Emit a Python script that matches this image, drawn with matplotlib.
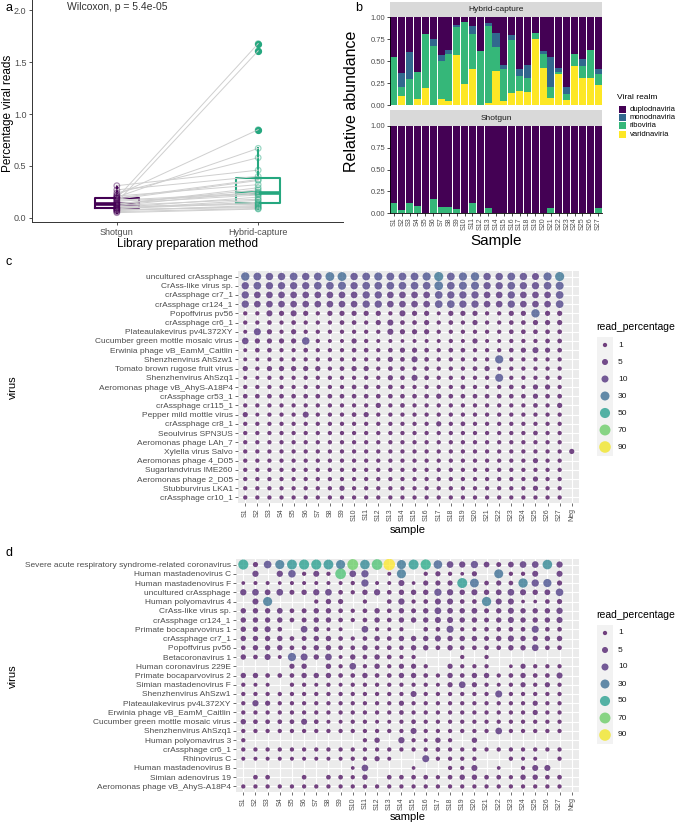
import numpy as np
import matplotlib
matplotlib.use("Agg")
import matplotlib.pyplot as plt
from matplotlib.colors import Normalize
from matplotlib.patches import Rectangle

plt.rcParams['font.family'] = ['Liberation Sans', 'DejaVu Sans']

W, H = 678, 824

# ---------------- panel a data ----------------
methods = ["Shotgun", "Hybrid-capture"]
shotgun = [0.19, 0.22, 0.12, 0.09, 0.31, 0.15, 0.07, 0.2, 0.1, 0.13, 0.24, 0.05, 0.16, 0.18,
           0.08, 0.135, 0.21, 0.11, 0.27, 0.06, 0.19, 0.14, 0.095, 0.12, 0.17, 0.075, 0.09]
hybrid = [1.68, 0.85, 0.25, 0.14, 0.46, 1.61, 0.12, 0.67, 0.2, 0.29, 0.58, 0.085, 0.23, 0.36,
          0.1, 0.27, 0.32, 0.13, 0.40, 0.09, 0.37, 0.22, 0.15, 0.18, 0.24, 0.11, 0.17]
method_colors = ["#440154", "#25a77f"]

# ---------------- panel b data ----------------
samples = ["S%d" % i for i in range(1, 28)]
realms = ["duplodnaviria", "monodnaviria", "riboviria", "varidnaviria"]
realm_colors = ["#440154", "#31688e", "#35b779", "#fde725"]
hc_varid = [0, .10, 0, .07, .19, 0, .07, .05, .57, .24, .41, 0, .02, .39, .04, .14, .16, .15,
            .75, .42, .08, .35, .06, .44, .31, .31, .23]
hc_ribo = [.55, .11, .30, .31, .62, .67, .43, .53, .32, .70, .40, .61, .88, .27, .37, .60, .17,
           .16, .07, .16, .13, .02, .07, .14, .13, .31, .12]
hc_mono = [0, .15, .30, 0, 0, .08, .07, .05, .02, 0, .09, 0, .03, .16, .04, .05, .08, .15, 0,
           .03, .33, .05, .07, 0, .08, 0, .06]
sg_ribo = [.12, .04, .12, .08, 0, .16, .07, .07, .05, 0, .11, 0, .06, 0, 0, 0, 0, 0, 0, 0,
           .06, 0, 0, 0, 0, 0, .06]

# ---------------- panel c/d data ----------------
dot_samples = samples + ["Neg"]
c_viruses = ["uncultured crAssphage", "CrAss-like virus sp.", "crAssphage cr7_1",
             "crAssphage cr124_1", "Popoffvirus pv56", "crAssphage cr6_1",
             "Plateaulakevirus pv4L372XY", "Cucumber green mottle mosaic virus",
             "Erwinia phage vB_EamM_Caitlin", "Shenzhenvirus AhSzw1",
             "Tomato brown rugose fruit virus", "Shenzhenvirus AhSzq1",
             "Aeromonas phage vB_AhyS-A18P4", "crAssphage cr53_1", "crAssphage cr115_1",
             "Pepper mild mottle virus", "crAssphage cr8_1", "Seoulvirus SPN3US",
             "Aeromonas phage LAh_7", "Xylella virus Salvo", "Aeromonas phage 4_D05",
             "Sugarlandvirus IME260", "Aeromonas phage 2_D05", "Stubburvirus LKA1",
             "crAssphage cr10_1"]
c_values = [
    [22, 16, 13, 13, 16, 13, 16, 28, 28, 13, 16, 19, 16, 16, 16, 20, 32, 16, 20, 22, 13, 13, 16, 13, 10, 20, 32, 0],
    [12, 15, 12, 12, 12, 12, 15, 15, 18, 12, 15, 15, 15, 15, 15, 15, 26, 15, 18, 18, 12, 12, 15, 12, 12, 15, 18, 0],
    [12, 8, 8, 8, 8, 8, 8, 8, 8, 8, 12, 12, 8, 8, 8, 8, 15, 12, 12, 12, 8, 8, 12, 8, 8, 8, 15, 0],
    [12, 8, 8, 8, 8, 8, 8, 8, 8, 8, 12, 12, 8, 8, 8, 8, 15, 15, 12, 12, 8, 8, 12, 8, 8, 8, 15, 0],
    [1, 1, 5, 2.5, 5, 2.5, 1, 2.5, 2.5, 2.5, 2.5, 2.5, 1, 5, 2.5, 2.5, 0.7, 2.5, 2.5, 2.5, 1, 1, 2.5, 2.5, 22, 2.5, 2.5, 0],
    [1, 1, 1.5, 1, 1.5, 1, 1, 1, 1.5, 1.5, 1, 2.5, 5, 1.5, 1.5, 2.5, 1, 1.5, 1, 2.5, 1, 1, 1.5, 1.5, 2.5, 2.5, 2.5, 0],
    [0.7, 10, 2.5, 1, 2.5, 1, 1, 1, 1, 1, 1, 1, 5, 2.5, 2.5, 2.5, 1, 1, 1, 1, 1, 1, 1.5, 1.5, 1.5, 1.5, 1.5, 0],
    [8, 2.5, 2.5, 2.5, 2.5, 14, 1, 0.7, 0.7, 2.5, 1, 0.7, 0.7, 0.5, 0.7, 0.7, 0.7, 1, 0.7, 2.5, 0.7, 0.7, 1, 1, 1, 1.5, 1.5, 0],
    [0.7, 1.5, 1.5, 1, 1, 1.5, 1, 1, 1, 1.5, 1.5, 1, 1.5, 2.5, 2.5, 1.5, 1, 1.5, 1.5, 1, 1, 1, 1.5, 2.5, 5, 2.5, 1.5, 0],
    [0.7, 0.7, 1, 1, 1, 1, 1, 1, 1, 1, 1, 1, 2.5, 1.5, 5, 1.5, 1, 1, 1, 1, 1, 20, 1, 1, 1, 1, 1, 0],
    [2.5, 1, 2.5, 2.5, 2.5, 2.5, 2.5, 1, 1.5, 2.5, 2.5, 1, 1.5, 1.5, 1, 1.5, 1, 1, 1, 1.5, 2.5, 0.7, 1, 1, 1, 1, 1, 0],
    [0.7, 0.7, 1, 1, 1, 1, 1, 1, 1, 1, 1, 1, 2.5, 1.5, 5, 1.5, 1, 1, 1, 1, 1, 18, 1, 1, 1, 1, 1, 0],
    [1, 1, 1, 1, 1, 1, 1, 1, 1, 1.5, 1.5, 1, 1.5, 1, 1, 1, 1, 1, 1.5, 1, 1, 1, 1.5, 1, 2.5, 2.5, 1, 0],
    [1.5, 1.5, 1.5, 1.5, 1.5, 1.5, 1.5, 1.5, 1.5, 1.5, 1.5, 1.5, 1.5, 1.5, 1.5, 1.5, 2.5, 1.5, 1.5, 1.5, 1.5, 1.5, 1.5, 1.5, 2.5, 1.5, 1.5, 0],
    [1, 1, 1, 1, 1, 1, 1, 1, 1, 1, 1, 2.5, 1, 1.5, 1, 1, 1, 1, 1, 1, 1, 1, 1, 1, 1.5, 1, 2.5, 0],
    [2.5, 0.7, 1, 1, 1, 5, 1, 1, 1, 1.5, 2.5, 1, 1, 1, 1, 1, 1, 1, 1, 1, 1, 1, 1, 1, 1, 1, 1, 0],
    [1, 1, 1, 1, 1, 1, 1, 1, 1, 1, 1, 1, 1, 1, 1, 1, 2.5, 1, 1.5, 1, 1, 1, 1, 1, 1, 1, 1, 0],
    [1, 1, 1, 1, 1, 1, 1, 1, 1, 1, 1, 1, 1, 1, 1, 1, 1, 1, 1, 1, 1, 1, 1, 1, 1.5, 1, 1, 0],
    [1, 1, 1, 1, 1, 1, 1, 1, 1, 1, 1, 1, 1, 1, 1, 1, 1, 1, 1, 1, 1, 1, 1, 1, 1, 1, 1, 0],
    [1, 1, 1, 1, 1, 1, 1, 1, 1, 1, 1, 1, 1, 1, 1, 1, 1, 1, 1, 1, 1, 1, 1, 1, 1, 1, 1, 2.5],
    [1, 1, 1, 1, 1, 1, 1, 1, 1, 1, 1, 1, 1, 1, 1, 1, 1, 1, 1, 1, 1, 1, 1, 1, 2.5, 1, 1, 0],
    [1, 1, 1, 1, 1, 1, 1, 1, 1, 1, 1, 1, 1, 1, 1, 1, 1, 1, 1, 1, 1, 1, 1, 1, 1, 1, 1, 0],
    [1, 1, 1, 1, 1, 1, 1, 1, 1, 1, 1, 1, 1, 1, 1, 1, 1, 1, 1, 1, 1, 1, 1, 1, 2.5, 1, 1, 0],
    [1, 1, 1, 1, 1, 1, 1, 1, 2.5, 1, 1, 1, 1, 1, 1, 1, 1, 1, 1, 1, 1, 1, 1, 1, 2.5, 1, 1, 0],
    [1, 1, 1, 1, 1, 1, 1, 1, 1, 1, 1, 1, 1, 1, 1, 1, 1, 1, 1, 1, 1, 1, 1, 1, 1, 1, 1, 0],
]

d_viruses = ["Severe acute respiratory syndrome-related coronavirus", "Human mastadenovirus C",
             "Human mastadenovirus F", "uncultured crAssphage", "Human polyomavirus 4",
             "CrAss-like virus sp.", "crAssphage cr124_1", "Primate bocaparvovirus 1",
             "crAssphage cr7_1", "Popoffvirus pv56", "Betacoronavirus 1",
             "Human coronavirus 229E", "Primate bocaparvovirus 2", "Simian mastadenovirus F",
             "Shenzhenvirus AhSzw1", "Plateaulakevirus pv4L372XY",
             "Erwinia phage vB_EamM_Caitlin", "Cucumber green mottle mosaic virus",
             "Shenzhenvirus AhSzq1", "Human polyomavirus 3", "crAssphage cr6_1", "Rhinovirus C",
             "Human mastadenovirus B", "Simian adenovirus 19", "Aeromonas phage vB_AhyS-A18P4"]
d_values = [
    [50, 2.5, 15, 32, 45, 50, 50, 45, 32, 70, 40, 65, 92, 32, 48, 55, 25, 8, 6, 12, 4, 2, 4, 8, 8, 40, 6, 0],
    [0, 6, 0, 6, 14, 1, 5, 1, 65, 8, 12, 0, 0.7, 32, 0, 1, 2.5, 1, 0.5, 2.5, 0, 30, 1, 1, 5, 0, 5, 0],
    [0.5, 0.7, 0.7, 0.5, 0.7, 0.7, 0.7, 0.7, 0.7, 1, 12, 0.7, 0.7, 5, 0.5, 2.5, 2.5, 2.5, 48, 28, 1.5, 2.5, 1.5, 35, 12, 20, 2.5, 0],
    [6, 8, 4, 8, 2, 3, 6, 8, 1.5, 1, 3, 6, 1.5, 3, 3, 3, 12, 6, 3, 5, 3, 4, 8, 5, 3, 4, 14, 0],
    [0, 5, 32, 0, 0, 0, 1, 3, 2.5, 0, 1, 0, 1.5, 6, 1, 1.5, 5, 5, 1.5, 1.5, 35, 5, 5, 0.5, 0.5, 1.5, 2.5, 0],
    [3, 3, 3, 4, 1.5, 2, 3, 3, 1.5, 1, 1.5, 3, 1.5, 3, 2, 3, 8, 4, 3, 4, 2, 3, 5, 3, 3, 3, 6, 0],
    [3, 3, 3, 3, 1.5, 2, 3, 3, 1.5, 1, 1.5, 3, 1.5, 3, 3, 3, 5, 5, 3, 3, 2, 3, 5, 3, 3, 3, 5, 0],
    [3, 3, 5, 1.5, 0, 8, 3, 0.7, 0.7, 0, 8, 1, 0.7, 1, 0, 1.5, 1.5, 10, 1, 1, 1.5, 1.5, 1.5, 1.5, 10, 1.5, 1.5, 0],
    [3, 3, 3, 3, 1.5, 2, 3, 3, 1.5, 1, 1.5, 3, 1.5, 3, 3, 3, 5, 3, 3, 3, 2, 3, 5, 3, 3, 3, 3, 0],
    [1.5, 3, 3, 3, 1.5, 1.5, 3, 3, 1.5, 1.5, 3, 1.5, 1.5, 1.5, 3, 3, 1.5, 3, 1.5, 1.5, 1.5, 1.5, 3, 3, 8, 1.5, 1.5, 0],
    [3, 1.5, 5, 0.7, 20, 10, 3, 8, 0.7, 3, 1.5, 3, 1.5, 1, 1, 0, 0, 0, 1, 0, 1, 0, 0, 0, 0, 0, 0, 0],
    [0, 0, 0, 0, 2.5, 3, 0, 3, 1, 8, 1, 3, 1, 2.5, 2.5, 1, 0, 2.5, 1, 1, 1, 0, 0.5, 2.5, 1, 1, 1, 0],
    [3, 3, 1.5, 1.5, 1.5, 3, 3, 3, 1.5, 1.5, 3, 1.5, 1.5, 3, 3, 1.5, 1, 3, 1.5, 3, 3, 1, 1.5, 3, 1.5, 1.5, 5, 0],
    [1, 0.7, 0.7, 0, 1, 1, 0.7, 1, 0.7, 1, 1, 1, 1, 1, 1, 1, 0.7, 2.5, 8, 2.5, 1, 0.7, 1, 2.5, 1, 2.5, 1, 0],
    [1, 1, 1, 1, 1, 1, 1, 1, 1, 1, 1, 1, 1, 1, 5, 1, 1, 1, 1, 1, 1, 10, 1, 1, 1, 1, 1, 0],
    [1, 6, 2.5, 1, 1, 1, 1, 1, 1, 1, 1, 1, 1, 2.5, 1, 1, 1, 1, 1, 1, 1, 1, 1, 1, 2.5, 1, 1, 0],
    [1, 1, 1, 1, 1, 1, 1, 1, 1, 1, 1, 1, 1, 1.5, 1, 1, 1, 1, 1, 1, 1, 1, 1, 1, 2.5, 1, 1, 0],
    [3, 1.5, 1.5, 1.5, 1.5, 5, 1.5, 0.7, 0.7, 1, 1, 0.7, 0.7, 1, 1.5, 1, 1, 1, 1, 1, 1, 1, 1, 1, 1, 1, 1, 0],
    [1, 1, 1, 1, 1, 1, 1, 1, 1, 1, 1, 1, 1, 1, 5, 1, 1, 1, 1, 1, 1, 8, 1, 1, 1, 1, 1, 0],
    [1, 0, 0, 0, 0, 0, 0, 0, 0, 0, 1, 3, 0, 6, 1, 0.7, 3, 1, 0, 3, 0, 0, 0, 0, 0, 0, 0, 0],
    [1, 1, 1, 1, 1, 1, 1, 1, 1, 1, 1, 1, 1, 1, 1, 1, 1.5, 1, 1, 1, 1, 1, 1, 1, 1, 1, 1, 0],
    [0.7, 0.7, 0.7, 0.7, 0.7, 0.7, 0.7, 0.7, 0.7, 1, 1, 2.5, 0.7, 0, 0, 10, 1, 1, 1, 1, 0, 0, 1, 0.7, 0.7, 0, 1, 0],
    [0, 0, 0, 0, 0, 0, 0, 0, 0, 0.5, 8, 0, 0, 0, 0.5, 0, 0, 1, 1, 5, 0, 0.5, 0, 1, 5, 5, 0, 0],
    [0, 1.5, 1.5, 0, 0, 1.5, 0, 1.5, 1.5, 1, 3, 0, 1.5, 1.5, 1.5, 1.5, 1, 1.5, 3, 3, 1.5, 1.5, 1, 3, 3, 1.5, 1.5, 0],
    [1, 1, 1, 1, 1, 1, 1, 1, 1, 1, 1, 1, 1, 1, 1, 1, 1, 1, 1, 1, 1, 1, 1, 1, 1, 1, 1, 0],
]
legend_breaks = [1, 5, 10, 30, 50, 70, 90]

TXT = "#4d4d4d"
cnorm = Normalize(0, 92)
cmap = plt.get_cmap("viridis")


def dot_size(v):
    # diameter in px grows roughly with v^0.25, converted to points^2
    d = 0.8 + 3.5 * np.asarray(v, dtype=float) ** 0.25
    return (d * 0.72) ** 2


def px_axes(x0, y0, x1, y1):
    return fig.add_axes([x0 / W, 1 - y1 / H, (x1 - x0) / W, (y1 - y0) / H])


fig = plt.figure(figsize=(W / 100, H / 100), dpi=100)

# overlay for labels and legends, in pixel coords
ov = fig.add_axes([0, 0, 1, 1], zorder=10)
ov.set_xlim(0, W)
ov.set_ylim(H, 0)
ov.axis("off")
ov.patch.set_alpha(0)

# ---------------- panel a ----------------
axa = px_axes(32, 0, 343, 222)
x_s, x_h = 1, 2
for s, h in zip(shotgun, hybrid):
    axa.plot([x_s, x_h], [s, h], color="#cfcfcf", lw=0.7, zorder=3)
for i, vals in enumerate([shotgun, hybrid]):
    c = method_colors[i]
    axa.boxplot([vals], positions=[i + 1], widths=0.31, showcaps=False,
                boxprops=dict(color=c, lw=1.5), whiskerprops=dict(color=c, lw=1.5),
                medianprops=dict(color=c, lw=2.6),
                flierprops=dict(marker="o", markerfacecolor=c, markeredgecolor=c,
                                markersize=4.2), zorder=2)
    axa.scatter([i + 1] * len(vals), vals, s=16, facecolors="none", edgecolors=c,
                alpha=0.45, lw=0.9, zorder=4)
axa.set_xlim(0.4, 2.6)
axa.set_ylim(-0.04, 2.1)
axa.set_xticks([1, 2])
axa.set_xticklabels(methods, fontsize=6.5, color=TXT)
axa.set_yticks([0, 0.5, 1.0, 1.5, 2.0])
axa.set_yticklabels(["0.0", "0.5", "1.0", "1.5", "2.0"], fontsize=6.5, color=TXT)
axa.tick_params(length=2.5, width=0.6, color="#333333", pad=1.5)
for sp in ["top", "right"]:
    axa.spines[sp].set_visible(False)
for sp in ["left", "bottom"]:
    axa.spines[sp].set_linewidth(0.7)
    axa.spines[sp].set_color("#333333")
axa.set_xlabel("Library preparation method", fontsize=8.5, labelpad=1)
axa.text(0.65, 2.03, "Wilcoxon, p = 5.4e-05", fontsize=7.5, color="#333333",
         ha="left", va="center")
ov.text(8, 113, "Percentage viral reads", fontsize=8.5, rotation=90,
        ha="center", va="center")

# ---------------- panel b ----------------
xb = np.arange(1, 28)
hc_duplo = 1 - np.array(hc_varid) - np.array(hc_ribo) - np.array(hc_mono)
sg_duplo = 1 - np.array(sg_ribo)
zeros = np.zeros(27)
facets = [("Hybrid-capture", [hc_duplo, hc_mono, hc_ribo, hc_varid], 17, 105, 2),
          ("Shotgun", [sg_duplo, zeros, np.array(sg_ribo), zeros], 126, 213, 110)]
for k, (name, layers, y0, y1, st) in enumerate(facets):
    ax = px_axes(390, y0, 602, y1)
    bottom = np.zeros(27)
    for j in [3, 2, 1, 0]:
        vals = np.asarray(layers[j], dtype=float)
        ax.bar(xb, vals, bottom=bottom, width=0.9, color=realm_colors[j], lw=0)
        bottom = bottom + vals
    ax.set_xlim(0.5, 27.5)
    ax.set_ylim(0, 1)
    ax.set_yticks([0, 0.25, 0.5, 0.75, 1])
    ax.set_yticklabels(["0.00", "0.25", "0.50", "0.75", "1.00"], fontsize=5.5, color=TXT)
    ax.tick_params(axis="y", length=2, width=0.5, pad=1.5)
    for sp in ["top", "right"]:
        ax.spines[sp].set_visible(False)
    ax.spines["left"].set_linewidth(0.6)
    if k == 0:
        ax.spines["bottom"].set_visible(False)
        ax.set_xticks([])
    else:
        ax.spines["bottom"].set_linewidth(0.6)
        ax.set_xticks(xb)
        ax.set_xticklabels(samples, rotation=90, fontsize=5, color=TXT)
        ax.tick_params(axis="x", length=2, width=0.5, pad=1)
    ov.add_patch(Rectangle((390, st), 212, y0 - st, facecolor="#d9d9d9", edgecolor="none"))
    ov.text(496, (st + y0) / 2, name, fontsize=6, color="#1a1a1a", ha="center", va="center")
ov.text(351, 101, "Relative abundance", fontsize=11.5, rotation=90,
        ha="center", va="center")
ov.text(496, 241, "Sample", fontsize=11, ha="center", va="center")
ov.text(617, 97, "Viral realm", fontsize=6, ha="left", va="center")
for j, (r, c) in enumerate(zip(realms, realm_colors)):
    yy = 109 + j * 8.4
    ov.add_patch(Rectangle((619, yy - 3.5), 7, 7, facecolor=c, edgecolor="none"))
    ov.text(630, yy, r, fontsize=5.5, ha="left", va="center")


# ---------------- panels c and d ----------------
def dot_panel(x0, y0, x1, y1, viruses, values, leg_y):
    ax = px_axes(x0, y0, x1, y1)
    ax.set_facecolor("#ebebeb")
    vals = np.array(values, dtype=float)
    rr, cc = np.nonzero(vals > 0)
    v = vals[rr, cc]
    order = np.argsort(v)
    ax.scatter(cc[order], rr[order], s=dot_size(v[order]), c=v[order], cmap=cmap,
               norm=cnorm, alpha=0.75, lw=0, zorder=3)
    ax.set_xlim(-0.6, len(dot_samples) - 0.4)
    ax.set_ylim(len(viruses) - 0.4, -0.6)
    ax.set_xticks(range(len(dot_samples)))
    ax.set_xticklabels(dot_samples, rotation=90, fontsize=5, color=TXT)
    ax.set_yticks(range(len(viruses)))
    ax.set_yticklabels(viruses, fontsize=6, color=TXT)
    ax.tick_params(length=2.2, width=0.5, color="#333333", pad=1.5)
    ax.grid(True, color="white", lw=0.8)
    ax.set_axisbelow(True)
    for sp in ax.spines.values():
        sp.set_visible(False)
    # size/colour legend
    ov.text(596, leg_y, "read_percentage", fontsize=7.5, ha="left", va="center")
    k0 = leg_y + 18
    ov.add_patch(Rectangle((597, k0 - 8.5), 16, 17 * len(legend_breaks),
                           facecolor="#f2f2f2", edgecolor="none"))
    ky = [k0 + 17 * i for i in range(len(legend_breaks))]
    ov.scatter([605] * len(ky), ky, s=dot_size(legend_breaks), c=legend_breaks,
               cmap=cmap, norm=cnorm, alpha=0.75, lw=0)
    for b, yv in zip(legend_breaks, ky):
        ov.text(618, yv, str(b), fontsize=6, color="#1a1a1a", ha="left", va="center")
    return ax


dot_panel(238, 271, 579, 503, c_viruses, c_values, 327)
ov.text(13, 387, "virus", fontsize=8, rotation=90, ha="center", va="center")
ov.text(408, 530, "sample", fontsize=8, ha="center", va="center")

dot_panel(236, 559, 579, 792, d_viruses, d_values, 615)
ov.text(13, 676, "virus", fontsize=8, rotation=90, ha="center", va="center")
ov.text(408, 817, "sample", fontsize=8, ha="center", va="center")

# panel letters
for letter, (lx, ly) in zip("abcd", [(5, 8), (355, 8), (6, 262), (6, 553)]):
    ov.text(lx, ly, letter, fontsize=9, ha="left", va="center")

fig.savefig("out.png", dpi=100)
